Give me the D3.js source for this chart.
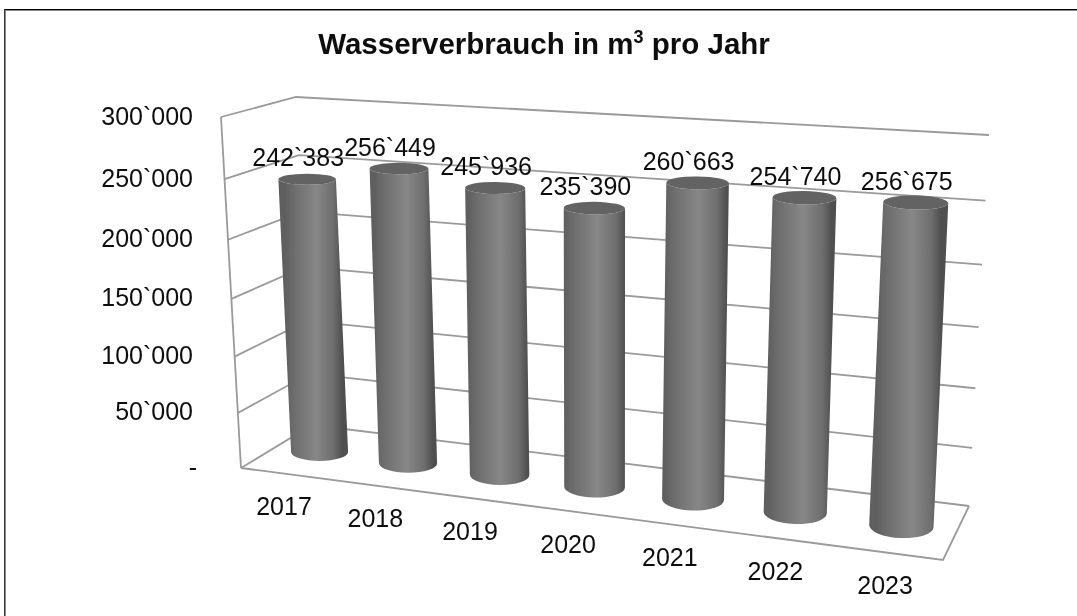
<!DOCTYPE html>
<html><head><meta charset="utf-8">
<script src="https://d3js.org/d3.v7.min.js"></script>
<style>
html,body{margin:0;padding:0;background:#fff}
svg{display:block}
text{font-family:"Liberation Sans",Arial,sans-serif;fill:#111}
</style></head><body>
<svg id="c" width="1077" height="616"></svg>
<script>
const titleMain = "Wasserverbrauch in m";
const titleSup = "3";
const titleEnd = " pro Jahr";
const years = ["2017","2018","2019","2020","2021","2022","2023"];
const water = [242383,256449,245936,235390,260663,254740,256675];
const valueTicks = [0,50000,100000,150000,200000,250000,300000];

const svg = d3.select("#c");
const fmt = d3.formatLocale({decimal:".",thousands:"`",grouping:[3],currency:["",""]}).format(",d");
const tickText = v => v === 0 ? "-" : fmt(v);

// 3D box corners as seen on screen: [x,y]  (f=front, b=back, l=left, r=right, 0=floor, 1=top)
const box = {
  fl0:[241,468], fr0:[943,560], bl0:[312,425], br0:[969,506],
  fl1:[221,117], fr1:[963,159], bl1:[296,97],  br1:[989,135]
};
// perspective warp of a unit coordinate
const warp = r => t => t*r/((1-t)+t*r);
const warpU = warp(0.88), warpV = warp(0.93);
const uScale = d3.scaleBand().domain(years).range([0,1]);
const vScale = d3.scaleLinear().domain([0,300000]).range([0,1]);
const lerp = (a,b,t)=>[a[0]+(b[0]-a[0])*t, a[1]+(b[1]-a[1])*t];
function project(u,depth,value){
  const uu = warpU(u), vv = warpV(vScale(value));
  const f0 = lerp(box.fl0,box.fr0,uu), b0 = lerp(box.bl0,box.br0,uu);
  const f1 = lerp(box.fl1,box.fr1,uu), b1 = lerp(box.bl1,box.br1,uu);
  return lerp(lerp(f0,b0,depth), lerp(f1,b1,depth), vv);
}
const uC = y => uScale(y)+uScale.bandwidth()/2;

// soft edge as in the reference picture
const defs = svg.append("defs");
defs.append("filter").attr("id","soft").attr("x","-5%").attr("y","-5%").attr("width","110%").attr("height","110%")
  .append("feGaussianBlur").attr("stdDeviation",0.45);
const chart = svg.append("g").attr("filter","url(#soft)");

// walls
const grid = chart.append("g").attr("fill","none").attr("stroke","#9a9a9a").attr("stroke-width",1.8);
const line = d3.line();
valueTicks.forEach(v=>{
  grid.append("path").attr("d",line([project(0,0,v),project(0,1,v),project(1,1,v)]));
});
grid.append("path").attr("d",line([project(0,0,300000),project(0,0,0)]));
grid.append("path").attr("d",line([project(0,0,0),project(1,0,0),project(1,1,0)]));

// frame
svg.append("rect").attr("x",4).attr("y",9).attr("width",1073).attr("height",1).attr("fill","#000");
svg.append("rect").attr("x",5).attr("y",10).attr("width",1072).attr("height",1).attr("fill","#8a8a8a");
svg.append("rect").attr("x",4).attr("y",9).attr("width",1).attr("height",607).attr("fill","#333");
svg.append("rect").attr("x",5).attr("y",10).attr("width",1).attr("height",606).attr("fill","#8a8a8a");

// title
const t = chart.append("text").attr("x",544).attr("y",54).attr("text-anchor","middle")
  .attr("font-size",29.5).attr("font-weight","bold");
t.append("tspan").text(titleMain);
t.append("tspan").attr("font-size",18).attr("dy",-11).text(titleSup);
t.append("tspan").attr("dy",11).text(titleEnd);

// value axis labels
chart.append("g").selectAll("text").data(valueTicks).join("text")
  .attr("x",d=>d===0?197:193)
  .attr("y",d=>project(0,0,d)[1]+7.5)
  .attr("text-anchor","end").attr("font-size",25).text(tickText);

// category labels
chart.append("g").selectAll("text").data(years).join("text")
  .attr("x",d=>project(uC(d),0,0)[0]-1.5)
  .attr("y",d=>project(uC(d),0,0)[1]+41.5)
  .attr("text-anchor","middle").attr("font-size",25).text(d=>d);

// cylinders
const idx = d3.scaleLinear().domain([0,6]);
const halfW = idx.copy().range([28.5,32.2]);
const ryBase = idx.copy().range([9,12]);
const ryTop = idx.copy().range([5.5,7]);
const tiltBase = idx.copy().range([0,2.2]);
const tiltTop = idx.copy().range([0,1.2]);
const bars = chart.append("g");
years.forEach((y,i)=>{
  const base = project(uC(y),0.5,0), top = project(uC(y),0.5,water[i]);
  const hw = halfW(i);
  const ta = tiltBase(i)*Math.PI/180, tb = tiltTop(i)*Math.PI/180;
  const bL=[base[0]-hw*Math.cos(ta),base[1]-hw*Math.sin(ta)], bR=[base[0]+hw*Math.cos(ta),base[1]+hw*Math.sin(ta)];
  const tw = hw*1.01;
  const tL=[top[0]-tw*Math.cos(tb),top[1]-tw*Math.sin(tb)], tR=[top[0]+tw*Math.cos(tb),top[1]+tw*Math.sin(tb)];
  // gradient across the cylinder
  const g = defs.append("linearGradient").attr("id","g"+i).attr("gradientUnits","userSpaceOnUse")
    .attr("x1",(bL[0]+tL[0])/2).attr("y1",(bL[1]+tL[1])/2).attr("x2",(bR[0]+tR[0])/2).attr("y2",(bL[1]+tL[1])/2);
  [[0,"#5e5e5e"],[0.12,"#6a6a6a"],[0.55,"#878787"],[0.85,"#6e6e6e"],[1,"#505050"]].forEach(s=>
    g.append("stop").attr("offset",s[0]).attr("stop-color",s[1]));
  const k = bars.append("g");
  k.append("path").attr("fill",`url(#g${i})`).attr("d",
    `M${tL} L${bL} A${hw},${ryBase(i)} ${tiltBase(i)} 0 0 ${bR} L${tR} A${tw},${ryTop(i)} ${tiltTop(i)} 0 1 ${tL} Z`);
  k.append("ellipse").attr("cx",top[0]).attr("cy",top[1]).attr("rx",tw).attr("ry",ryTop(i))
    .attr("transform",`rotate(${tiltTop(i)} ${top[0]} ${top[1]})`).attr("fill","#636363");
});

// data labels
chart.append("g").selectAll("text").data(years).join("text")
  .attr("x",(d,i)=>project(uC(d),0.5,water[i])[0]-9)
  .attr("y",(d,i)=>project(uC(d),0.5,water[i])[1]-13)
  .attr("text-anchor","middle").attr("font-size",25).text((d,i)=>fmt(water[i]));
</script></body></html>
